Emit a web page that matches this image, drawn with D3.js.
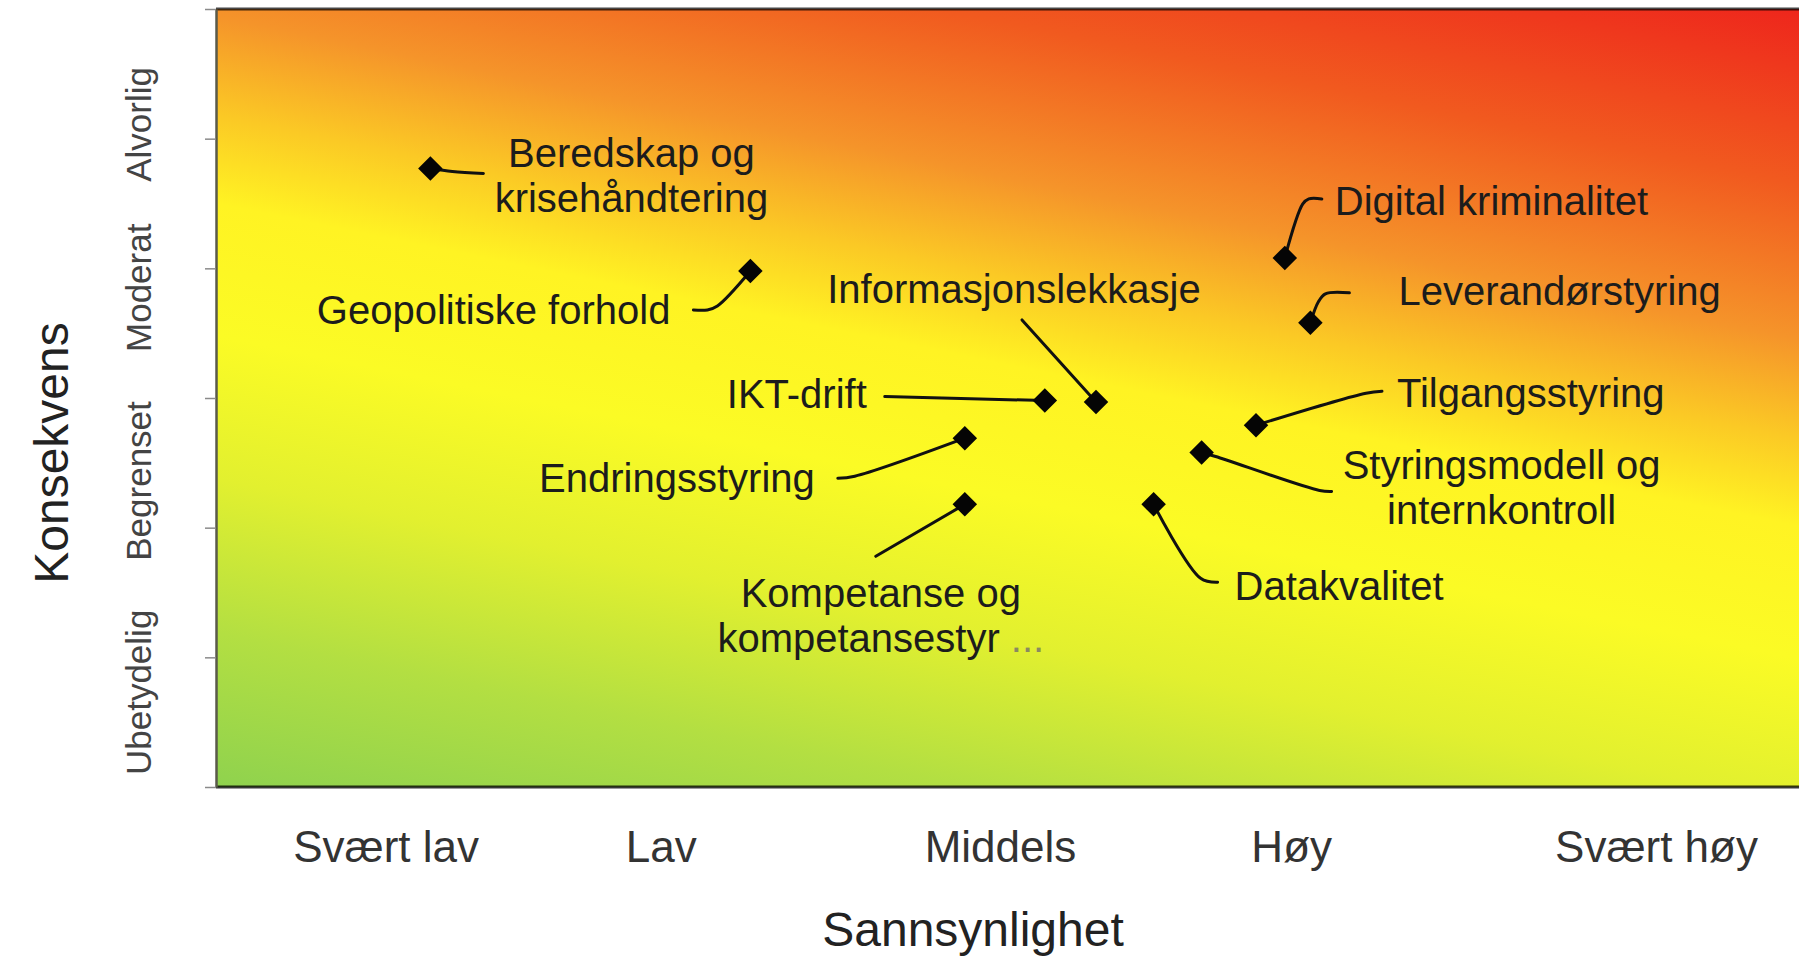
<!DOCTYPE html>
<html>
<head>
<meta charset="utf-8">
<script src="https://cdn.jsdelivr.net/npm/d3@7"></script>
<style>
  html, body { margin: 0; padding: 0; background: #fff; }
  svg { display: block; }
</style>
</head>
<body>
<div id="chart"></div>
<script>
// Risk matrix — Sannsynlighet vs Konsekvens on a heat gradient

const xCategories   = ['Svært lav', 'Lav', 'Middels', 'Høy', 'Svært høy'];
const xCategoryPos  = [0.53, 1.39, 2.45, 3.36, 4.5];
const yCategories   = ['Ubetydelig', 'Begrenset', 'Moderat', 'Alvorlig'];
const yCategoryPos  = [0.73, 2.36, 3.85, 5.11];
const yTicks        = [0, 1, 2, 3, 4, 5, 6];

const risks = [
  'Beredskap og krisehåndtering',
  'Geopolitiske forhold',
  'Digital kriminalitet',
  'Leverandørstyring',
  'IKT-drift',
  'Informasjonslekkasje',
  'Tilgangsstyring',
  'Styringsmodell og internkontroll',
  'Endringsstyring',
  'Kompetanse og kompetansestyring',
  'Datakvalitet',
];
const likelihood  = [0.67, 1.67, 3.34, 3.42, 2.59, 2.75, 3.25, 3.08, 2.34, 2.34, 2.93];
const consequence = [4.77, 3.98, 4.08, 3.58, 2.98, 2.97, 2.79, 2.58, 2.69, 2.18, 2.18];

// label placement (pixel offsets from the marker)
const labelLayout = {
  'Beredskap og krisehåndtering':     { lines: ['Beredskap og', 'krisehåndtering'], anchor: 'middle', dx: 201, dy: -1,  leader: [[0,0],[22,3],[53,5]] },
  'Geopolitiske forhold':             { lines: ['Geopolitiske forhold'], anchor: 'end',    dx: -80, dy: 53,  leader: [[0,0],[-33,35],[-43,39],[-57,39]] },
  'Digital kriminalitet':             { lines: ['Digital kriminalitet'], anchor: 'start',  dx: 50,  dy: -43, leader: [[0,0],[18,-54],[24,-59],[37,-59]] },
  'Leverandørstyring':                { lines: ['Leverandørstyring'],    anchor: 'start',  dx: 88,  dy: -18, leader: [[0,0],[8,-21],[15,-29],[39,-30]] },
  'IKT-drift':                        { lines: ['IKT-drift'],            anchor: 'end',    dx: -178, dy: 7,  leader: [[0,0],[-160,-4]] },
  'Informasjonslekkasje':             { lines: ['Informasjonslekkasje'], anchor: 'middle', dx: -82, dy: -99, leader: [[0,0],[-74,-82]] },
  'Tilgangsstyring':                  { lines: ['Tilgangsstyring'],      anchor: 'start',  dx: 141, dy: -18, leader: [[0,0],[110,-32],[126,-34]] },
  'Styringsmodell og internkontroll': { lines: ['Styringsmodell og', 'internkontroll'], anchor: 'middle', dx: 300, dy: 27, leader: [[0,0],[14,4],[118,38],[130,39]] },
  'Endringsstyring':                  { lines: ['Endringsstyring'],      anchor: 'end',    dx: -150, dy: 54, leader: [[0,0],[-110,38],[-127,40]] },
  'Kompetanse og kompetansestyring':  { lines: ['Kompetanse og', 'kompetansestyr'], more: true, anchor: 'middle', dx: -84, dy: 103, leader: [[0,0],[-89,52]] },
  'Datakvalitet':                     { lines: ['Datakvalitet'],         anchor: 'start',  dx: 81,  dy: 96,  leader: [[0,0],[47,74],[64,78]] },
};

const W = 1799, H = 959;
const FONT = 'Arial, "Liberation Sans", Helvetica, sans-serif';

const x = d3.scaleLinear().domain([0, 5]).range([216, 1816]);
const y = d3.scaleLinear().domain([0, 6]).range([787, 9]);

const svg = d3.select('#chart')
  .append('svg')
  .attr('width', W)
  .attr('height', H)
  .style('font-family', FONT);

// heat gradient, tilted so iso-bands fall slightly to the right
const n = [0.2, -0.98];
const corners = [[x(0), y(6)], [W, y(6)], [x(0), y(0)], [W, y(0)]];
const proj = corners.map(c => c[0] * n[0] + c[1] * n[1]);
const tMin = d3.min(proj), tMax = d3.max(proj);
const cx = (x(0) + W) / 2, cy = (y(0) + y(6)) / 2;
const tC = cx * n[0] + cy * n[1];

const grad = svg.append('defs').append('linearGradient')
  .attr('id', 'heat')
  .attr('gradientUnits', 'userSpaceOnUse')
  .attr('x1', cx + (tMin - tC) * n[0]).attr('y1', cy + (tMin - tC) * n[1])
  .attr('x2', cx + (tMax - tC) * n[0]).attr('y2', cy + (tMax - tC) * n[1]);

[
  [0.00, '#8fd24e'],
  [0.14, '#b3df42'],
  [0.28, '#e2f02f'],
  [0.41, '#fbfb25'],
  [0.53, '#fff323'],
  [0.61, '#fbc925'],
  [0.70, '#f5942a'],
  [0.84, '#f15a1f'],
  [1.00, '#ee261c'],
].forEach(([o, c]) => grad.append('stop').attr('offset', o).attr('stop-color', c));

svg.append('rect')
  .attr('x', x(0))
  .attr('y', y(6))
  .attr('width', W - x(0) + 10)
  .attr('height', y(0) - y(6))
  .attr('fill', 'url(#heat)');

// frame lines top / bottom
svg.append('line')
  .attr('x1', x(0)).attr('x2', W + 5)
  .attr('y1', y(6)).attr('y2', y(6))
  .attr('stroke', '#000').attr('stroke-opacity', 0.72).attr('stroke-width', 3);
svg.append('line')
  .attr('x1', x(0)).attr('x2', W + 5)
  .attr('y1', y(0)).attr('y2', y(0))
  .attr('stroke', '#000').attr('stroke-opacity', 0.78).attr('stroke-width', 3);

// y axis: plain ticks, category labels drawn separately
const yAxis = svg.append('g')
  .attr('transform', `translate(${x(0)},0)`)
  .call(d3.axisLeft(y).tickValues(yTicks).tickFormat('').tickSize(11).tickSizeOuter(0));
yAxis.select('.domain').attr('stroke', '#5a5a4a').attr('stroke-width', 2.5);
yAxis.selectAll('.tick line').attr('stroke', '#8a8a8a').attr('stroke-width', 1.5);

svg.append('g')
  .selectAll('text')
  .data(yCategories)
  .join('text')
  .attr('transform', (d, i) => `translate(151,${y(yCategoryPos[i])}) rotate(-90)`)
  .attr('text-anchor', 'middle')
  .attr('font-size', 35)
  .attr('fill', '#444')
  .text(d => d);

// x axis: category labels only
const xAxis = svg.append('g')
  .attr('transform', `translate(0,${y(0)})`)
  .call(d3.axisBottom(x)
    .tickValues(xCategoryPos)
    .tickFormat((d, i) => xCategories[i])
    .tickSize(0)
    .tickPadding(44));
xAxis.select('.domain').remove();
xAxis.selectAll('.tick text')
  .attr('font-size', 44)
  .attr('font-family', FONT)
  .attr('fill', '#333');

// axis titles
svg.append('text')
  .attr('x', 973)
  .attr('y', 946)
  .attr('text-anchor', 'middle')
  .attr('font-size', 48)
  .attr('fill', '#222')
  .text('Sannsynlighet');

svg.append('text')
  .attr('transform', `translate(68,453) rotate(-90)`)
  .attr('text-anchor', 'middle')
  .attr('font-size', 48)
  .attr('fill', '#222')
  .text('Konsekvens');

// risks
const points = risks.map((name, i) => ({
  name,
  px: x(likelihood[i]),
  py: y(consequence[i]),
  lay: labelLayout[name],
}));

const leaderLine = d3.line().curve(d3.curveCatmullRom.alpha(0.5));

const g = svg.append('g');

g.selectAll('path.leader')
  .data(points)
  .join('path')
  .attr('class', 'leader')
  .attr('d', d => leaderLine(d.lay.leader.map(p => [d.px + p[0], d.py + p[1]])))
  .attr('fill', 'none')
  .attr('stroke', '#111')
  .attr('stroke-width', 3)
  .attr('stroke-linecap', 'round');

g.selectAll('path.marker')
  .data(points)
  .join('path')
  .attr('class', 'marker')
  .attr('d', d3.symbol().type(d3.symbolSquare).size(300))
  .attr('transform', d => `translate(${d.px},${d.py}) rotate(45)`)
  .attr('fill', '#050505');

const labels = g.selectAll('text.label')
  .data(points)
  .join('text')
  .attr('class', 'label')
  .attr('text-anchor', d => d.lay.anchor)
  .attr('font-size', 40)
  .attr('fill', '#1c1c1c');

labels.each(function(d) {
  const t = d3.select(this);
  d.lay.lines.forEach((line, i) => {
    t.append('tspan')
      .attr('x', d.px + d.lay.dx)
      .attr('y', d.py + d.lay.dy + i * 45)
      .text(line);
    if (d.lay.more && i === d.lay.lines.length - 1) {
      t.append('tspan').attr('fill', '#8a8a60').text(' ...');
    }
  });
});
</script>
</body>
</html>
